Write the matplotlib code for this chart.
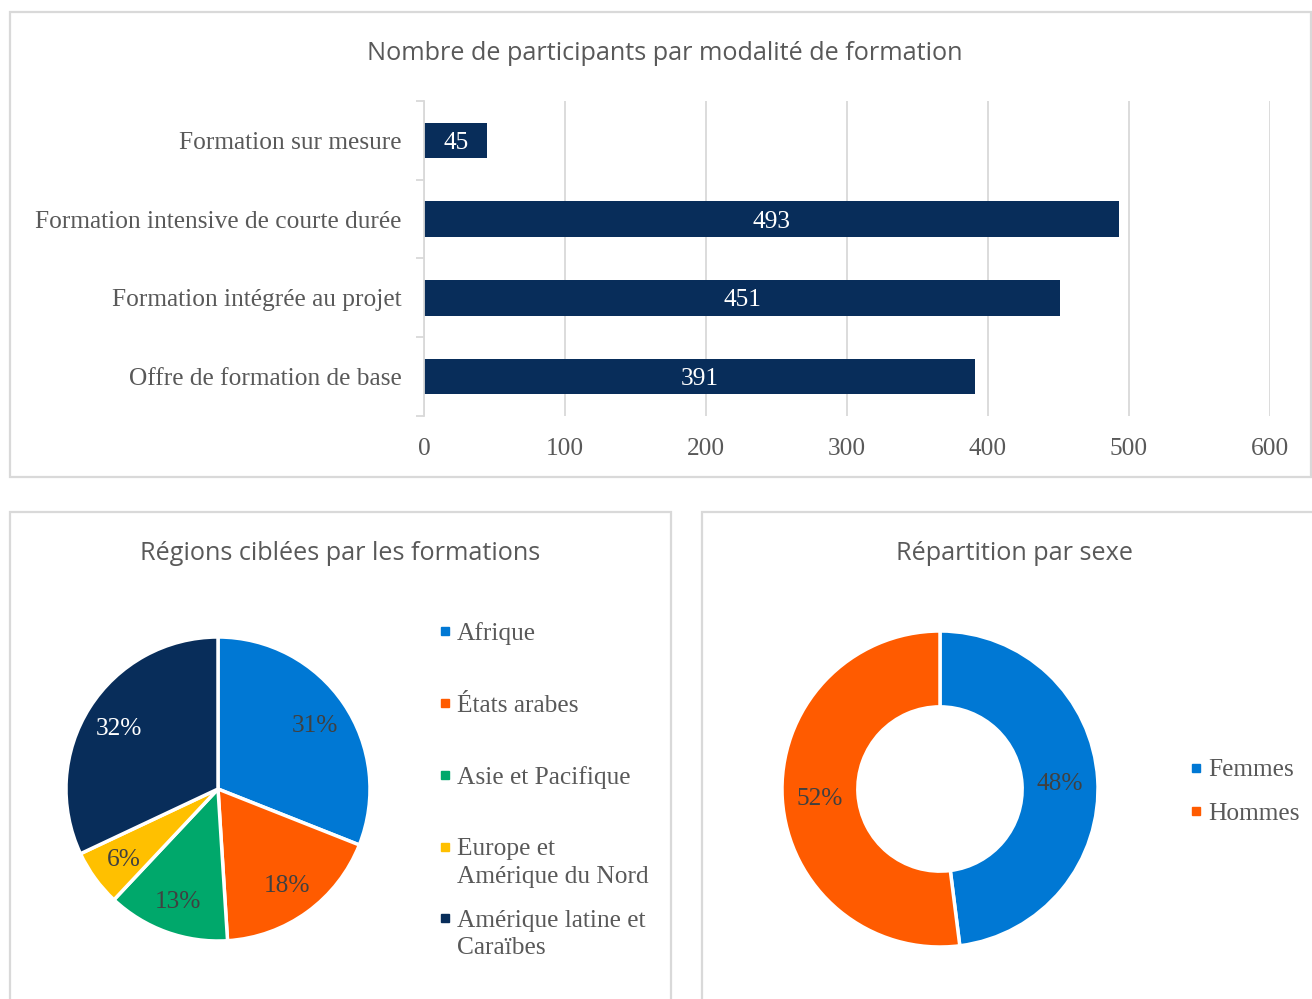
import matplotlib
matplotlib.use("Agg")
import matplotlib.pyplot as plt
from matplotlib.patches import Rectangle

# ---------------- data ----------------
bar_categories = ["Formation sur mesure", "Formation intensive de courte durée",
                  "Formation intégrée au projet", "Offre de formation de base"]
bar_values = [45, 493, 451, 391]
bar_ticks = [0, 100, 200, 300, 400, 500, 600]

region_labels = ["Afrique", "États arabes", "Asie et Pacifique",
                 "Europe et\nAmérique du Nord", "Amérique latine et\nCaraïbes"]
region_values = [31, 18, 13, 6, 32]
region_colors = ["#0078D4", "#FF5B00", "#00A86B", "#FFC000", "#082D5A"]

sex_labels = ["Femmes", "Hommes"]
sex_values = [48, 52]
sex_colors = ["#0078D4", "#FF5B00"]

title_bar = "Nombre de participants par modalité de formation"
title_region = "Régions ciblées par les formations"
title_sex = "Répartition par sexe"

# ---------------- style ----------------
W, H = 1312, 999
SERIF = ["Liberation Serif", "DejaVu Serif"]
SANS = ["Open Sans", "DejaVu Sans"]
GRAY = "#595959"
DARK = "#404040"
GRID = "#D9D9D9"
NAVY = "#082D5A"
FS = 18.3
TFS = 18.2

fig = plt.figure(figsize=(W / 100, H / 100), dpi=100)
fig.patch.set_facecolor("white")


def ax_px(x0, y0, x1, y1, **kw):
    return fig.add_axes([x0 / W, 1 - y1 / H, (x1 - x0) / W, (y1 - y0) / H], **kw)


def fx(x):
    return x / W


def fy(y):
    return 1 - y / H


# panel borders
for (x0, y0, x1, y1) in [(10, 12, 1311, 477), (10, 512, 671, 1005), (702, 512, 1315, 1005)]:
    fig.patches.append(Rectangle((fx(x0), fy(y1)), fx(x1) - fx(x0), fy(y0) - fy(y1),
                                 transform=fig.transFigure, fill=False,
                                 edgecolor=GRID, linewidth=1.6))

# ---------------- bar chart ----------------
ax = ax_px(424, 101, 1270, 416)
ypos = list(range(len(bar_categories)))
ax.barh(ypos, bar_values, height=0.45, color=NAVY, zorder=3)
ax.set_ylim(len(bar_categories) - 0.5, -0.5)
ax.set_xlim(bar_ticks[0], bar_ticks[-1])
ax.set_xticks(bar_ticks)
ax.set_xticklabels([str(t) for t in bar_ticks], fontfamily=SERIF, fontsize=FS, color=GRAY)
ax.set_yticks(ypos)
ax.set_yticklabels(bar_categories, fontfamily=SERIF, fontsize=FS, color=GRAY)
ax.set_yticks([y + 0.5 for y in [-1] + ypos], minor=True)
ax.tick_params(axis="y", which="major", length=0, pad=16)
ax.tick_params(axis="y", which="minor", length=6, color=GRID, width=1.3)
ax.tick_params(axis="x", length=0, pad=16)
ax.grid(axis="x", color=GRID, linewidth=1.3, zorder=0)
for s in ["top", "right", "bottom"]:
    ax.spines[s].set_visible(False)
ax.spines["left"].set_color(GRID)
ax.spines["left"].set_linewidth(1.3)
ax.spines["left"].set_zorder(4)
for y, v in zip(ypos, bar_values):
    ax.text(v / 2, y, str(v), ha="center", va="center_baseline", color="white",
            fontfamily=SERIF, fontsize=FS, zorder=5)
fig.text(fx(665), fy(53), title_bar, ha="center", va="center",
         fontfamily=SANS, fontsize=TFS, color=GRAY)

# ---------------- pie chart ----------------
R1 = 152
axp = ax_px(218 - R1, 789 - R1, 218 + R1, 789 + R1)
wedges, texts, autotexts = axp.pie(
    region_values, colors=region_colors, startangle=90, counterclock=False,
    radius=1.0, autopct=lambda p: f"{p:.0f}%", pctdistance=0.77,
    wedgeprops=dict(edgecolor="white", linewidth=2.5),
    textprops=dict(fontfamily=SERIF, fontsize=FS, color=DARK))
for t in autotexts:
    t.set_va("center_baseline")
autotexts[-1].set_color("white")
axp.set_xlim(-1, 1)
axp.set_ylim(-1, 1)
axp.set_aspect("equal")
axp.axis("off")
fig.text(fx(340), fy(553), title_region, ha="center", va="center",
         fontfamily=SANS, fontsize=TFS, color=GRAY)

leg_y = [631, 703, 775, 847, 918]
for lab, col, y in zip(region_labels, region_colors, leg_y):
    fig.patches.append(Rectangle((fx(441), fy(y + 4)), fx(8), 8 / H,
                                 transform=fig.transFigure, color=col))
    for i, line in enumerate(lab.split("\n")):
        fig.text(fx(457), fy(y + 28 * i), line, ha="left", va="center_baseline",
                 fontfamily=SERIF, fontsize=FS, color=GRAY)

# ---------------- donut ----------------
R2 = 158
axd = ax_px(940 - R2, 789 - R2, 940 + R2, 789 + R2)
w2, t2, a2 = axd.pie(
    sex_values, colors=sex_colors, startangle=90, counterclock=False,
    radius=1.0, autopct=lambda p: f"{p:.0f}%", pctdistance=0.76,
    wedgeprops=dict(width=0.48, edgecolor="white", linewidth=2.5),
    textprops=dict(fontfamily=SERIF, fontsize=FS, color=DARK))
for t in a2:
    t.set_va("center_baseline")
axd.set_xlim(-1, 1)
axd.set_ylim(-1, 1)
axd.set_aspect("equal")
axd.axis("off")
fig.text(fx(1014), fy(554), title_sex, ha="center", va="center",
         fontfamily=SANS, fontsize=TFS, color=GRAY)

for lab, col, y in zip(sex_labels, sex_colors, [768, 811]):
    fig.patches.append(Rectangle((fx(1192), fy(y + 4)), fx(8), 8 / H,
                                 transform=fig.transFigure, color=col))
    fig.text(fx(1208), fy(y), lab, ha="left", va="center_baseline", fontfamily=SERIF,
             fontsize=FS, color=GRAY)

fig.savefig("out.png", dpi=100, facecolor="white")
